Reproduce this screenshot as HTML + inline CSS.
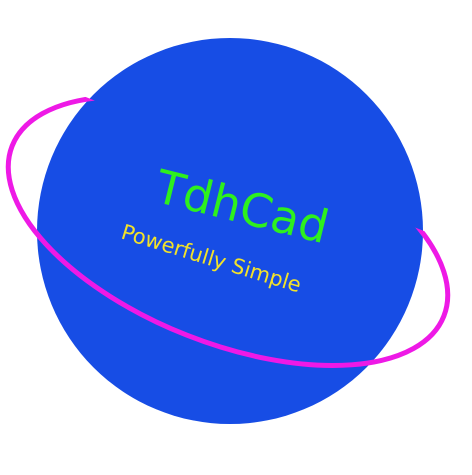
<!DOCTYPE html>
<html><head><style>html,body{margin:0;padding:0;background:#fff;width:472px;height:475px;overflow:hidden}</style></head>
<body>
<svg width="472" height="475" viewBox="0 0 472 475" xmlns="http://www.w3.org/2000/svg">
<defs><clipPath id="front"><polygon points="0,63 472,250 472,475 0,475"/></clipPath></defs>
<circle cx="230" cy="231" r="193" fill="#174de5"/>
<g clip-path="url(#front)">
<ellipse cx="228" cy="231" rx="232" ry="112" transform="rotate(21.5 228 231)" fill="none" stroke="#ee19e6" stroke-width="5"/>
</g>
<text x="0" y="0" transform="translate(153,201) rotate(14)" font-family="DejaVu Sans, sans-serif" font-size="46" fill="#2ef01e">TdhCad</text>
<text x="0" y="0" transform="translate(120,238) rotate(17)" font-family="DejaVu Sans, sans-serif" font-size="21" fill="#f2e22a">Powerfully Simple</text>
</svg>
</body></html>
